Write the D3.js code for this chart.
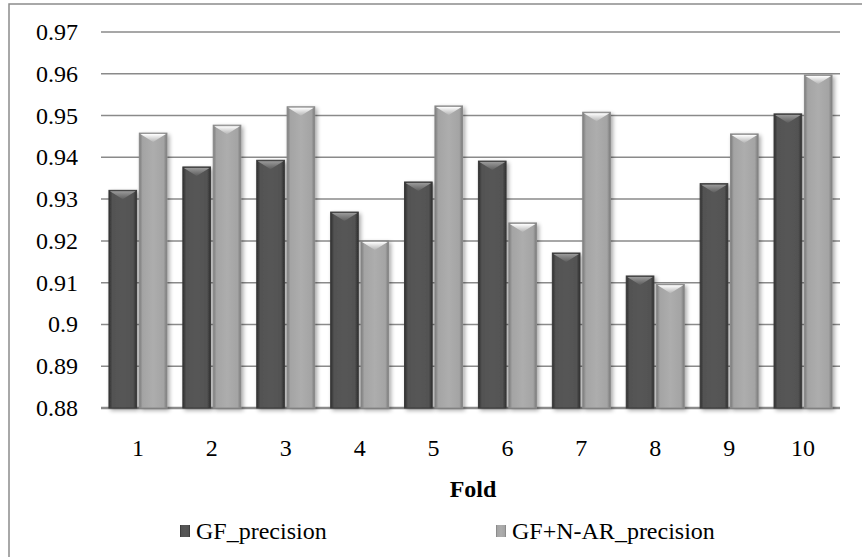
<!DOCTYPE html>
<meta charset="utf-8" />
<script src="https://d3js.org/d3.v7.min.js"></script>
<style>
  body { margin: 0; background: #fff; }
</style>
<svg id="chart" width="862" height="557"></svg>
<script>
  // data
  var folds = ["1", "2", "3", "4", "5", "6", "7", "8", "9", "10"];
  var seriesNames = ["GF_precision", "GF+N-AR_precision"];
  var gfPrecision = [0.9321, 0.9377, 0.9393, 0.9269, 0.9341, 0.9391, 0.9171, 0.9116, 0.9337, 0.9504];
  var gfNarPrecision = [0.9458, 0.9477, 0.9521, 0.9200, 0.9523, 0.9243, 0.9508, 0.9096, 0.9456, 0.9597];
  var yTicks = [0.88, 0.89, 0.9, 0.91, 0.92, 0.93, 0.94, 0.95, 0.96, 0.97];

  var serif = "'Liberation Serif', 'Times New Roman', Times, 'DejaVu Serif', serif";
  var fontSize = 24;

  var svg = d3.select("#chart")
    .attr("font-family", serif);

  // chart frame (right and bottom edges fall outside the picture)
  svg.append("rect")
    .attr("x", 9).attr("y", 4)
    .attr("width", 870).attr("height", 570)
    .attr("fill", "none")
    .attr("stroke", "#8c8c8c")
    .attr("stroke-width", 1.5);

  var x = d3.scaleBand()
    .domain(folds)
    .range([101, 840])
    .paddingInner(0.215)
    .paddingOuter(0.1075);

  var xs = d3.scaleBand()
    .domain(seriesNames)
    .range([0, x.bandwidth()])
    .paddingInner(0.09);

  var y = d3.scaleLinear()
    .domain([0.88, 0.97])
    .range([408, 32]);

  var defs = svg.append("defs");

  function barGradient(id, edge, mid) {
    var g = defs.append("linearGradient").attr("id", id)
      .attr("x1", "0%").attr("x2", "100%").attr("y1", "0%").attr("y2", "0%");
    g.append("stop").attr("offset", "0%").attr("stop-color", edge);
    g.append("stop").attr("offset", "12%").attr("stop-color", mid);
    g.append("stop").attr("offset", "50%").attr("stop-color", d3.color(mid).brighter(0.15));
    g.append("stop").attr("offset", "88%").attr("stop-color", mid);
    g.append("stop").attr("offset", "100%").attr("stop-color", edge);
  }
  barGradient("gradDark", "#2e2e2e", "#525252");
  barGradient("gradLight", "#7a7a7a", "#a4a4a4");

  function topGradient(id, c) {
    var g = defs.append("linearGradient").attr("id", id)
      .attr("x1", "0%").attr("x2", "0%").attr("y1", "0%").attr("y2", "100%");
    g.append("stop").attr("offset", "0%").attr("stop-color", c).attr("stop-opacity", 1);
    g.append("stop").attr("offset", "100%").attr("stop-color", c).attr("stop-opacity", 0.1);
  }
  topGradient("topDark", "#9a9a9a");
  topGradient("topLight", "#ffffff");

  var shadow = defs.append("filter").attr("id", "shadow")
    .attr("x", "-30%").attr("y", "-10%").attr("width", "160%").attr("height", "120%");
  shadow.append("feGaussianBlur").attr("in", "SourceAlpha").attr("stdDeviation", 2);
  shadow.append("feOffset").attr("dx", 2).attr("dy", 2).attr("result", "b");
  shadow.append("feComponentTransfer").append("feFuncA").attr("type", "linear").attr("slope", 0.35);
  var merge = shadow.append("feMerge");
  merge.append("feMergeNode");
  merge.append("feMergeNode").attr("in", "SourceGraphic");

  // gridlines
  svg.append("g")
    .selectAll("line")
    .data(yTicks)
    .enter()
    .append("line")
    .attr("x1", 101).attr("x2", 840)
    .attr("y1", function(d) { return y(d); })
    .attr("y2", function(d) { return y(d); })
    .attr("stroke", "#8a8a8a")
    .attr("stroke-width", function(d) { return d === 0.88 ? 2.5 : 1.5; });

  // y labels
  svg.append("g")
    .selectAll("text")
    .data(yTicks)
    .enter()
    .append("text")
    .attr("x", 78)
    .attr("y", function(d) { return y(d) + 8; })
    .attr("text-anchor", "end")
    .attr("font-size", fontSize)
    .text(function(d) { return d3.format(".2~f")(d); });

  var rows = folds.map(function(f, i) {
    return [
      { fold: f, s: seriesNames[0], v: gfPrecision[i], fill: "url(#gradDark)", top: "url(#topDark)", stroke: "#3a3a3a" },
      { fold: f, s: seriesNames[1], v: gfNarPrecision[i], fill: "url(#gradLight)", top: "url(#topLight)", stroke: "#8a8a8a" }
    ];
  });
  var bars = d3.merge(rows);

  var barG = svg.append("g").selectAll("g")
    .data(bars)
    .enter()
    .append("g")
    .attr("transform", function(d) { return "translate(" + (x(d.fold) + xs(d.s)) + ",0)"; });

  barG.append("rect")
    .attr("x", 0)
    .attr("y", function(d) { return y(d.v); })
    .attr("width", xs.bandwidth())
    .attr("height", function(d) { return y(0.88) - y(d.v); })
    .attr("fill", function(d) { return d.fill; })
    .attr("stroke", function(d) { return d.stroke; })
    .attr("stroke-width", 1)
    .attr("filter", "url(#shadow)");

  // bevel notch at the top of each bar
  barG.append("path")
    .attr("d", function(d) {
      var w = xs.bandwidth(), t = y(d.v);
      return "M1," + (t + 1) + "L" + (w - 1) + "," + (t + 1) + "L" + (w / 2) + "," + (t + 9) + "Z";
    })
    .attr("fill", function(d) { return d.top; });

  // x labels
  svg.append("g")
    .selectAll("text")
    .data(folds)
    .enter()
    .append("text")
    .attr("x", function(d) { return x(d) + x.bandwidth() / 2; })
    .attr("y", 456)
    .attr("text-anchor", "middle")
    .attr("font-size", fontSize)
    .text(function(d) { return d; });

  svg.append("text")
    .attr("x", 473)
    .attr("y", 497)
    .attr("text-anchor", "middle")
    .attr("font-size", fontSize)
    .attr("font-weight", "bold")
    .text("Fold");

  // legend
  var legendX = [180, 496];
  var legendFill = ["url(#gradDark)", "url(#gradLight)"];
  var leg = svg.append("g").selectAll("g")
    .data(seriesNames)
    .enter()
    .append("g")
    .attr("transform", function(d, i) { return "translate(" + legendX[i] + ",525)"; });
  leg.append("rect")
    .attr("width", 10).attr("height", 12)
    .attr("fill", function(d, i) { return legendFill[i]; });
  leg.append("text")
    .attr("x", 16)
    .attr("y", 14)
    .attr("font-size", fontSize)
    .text(function(d) { return d; });
</script>
